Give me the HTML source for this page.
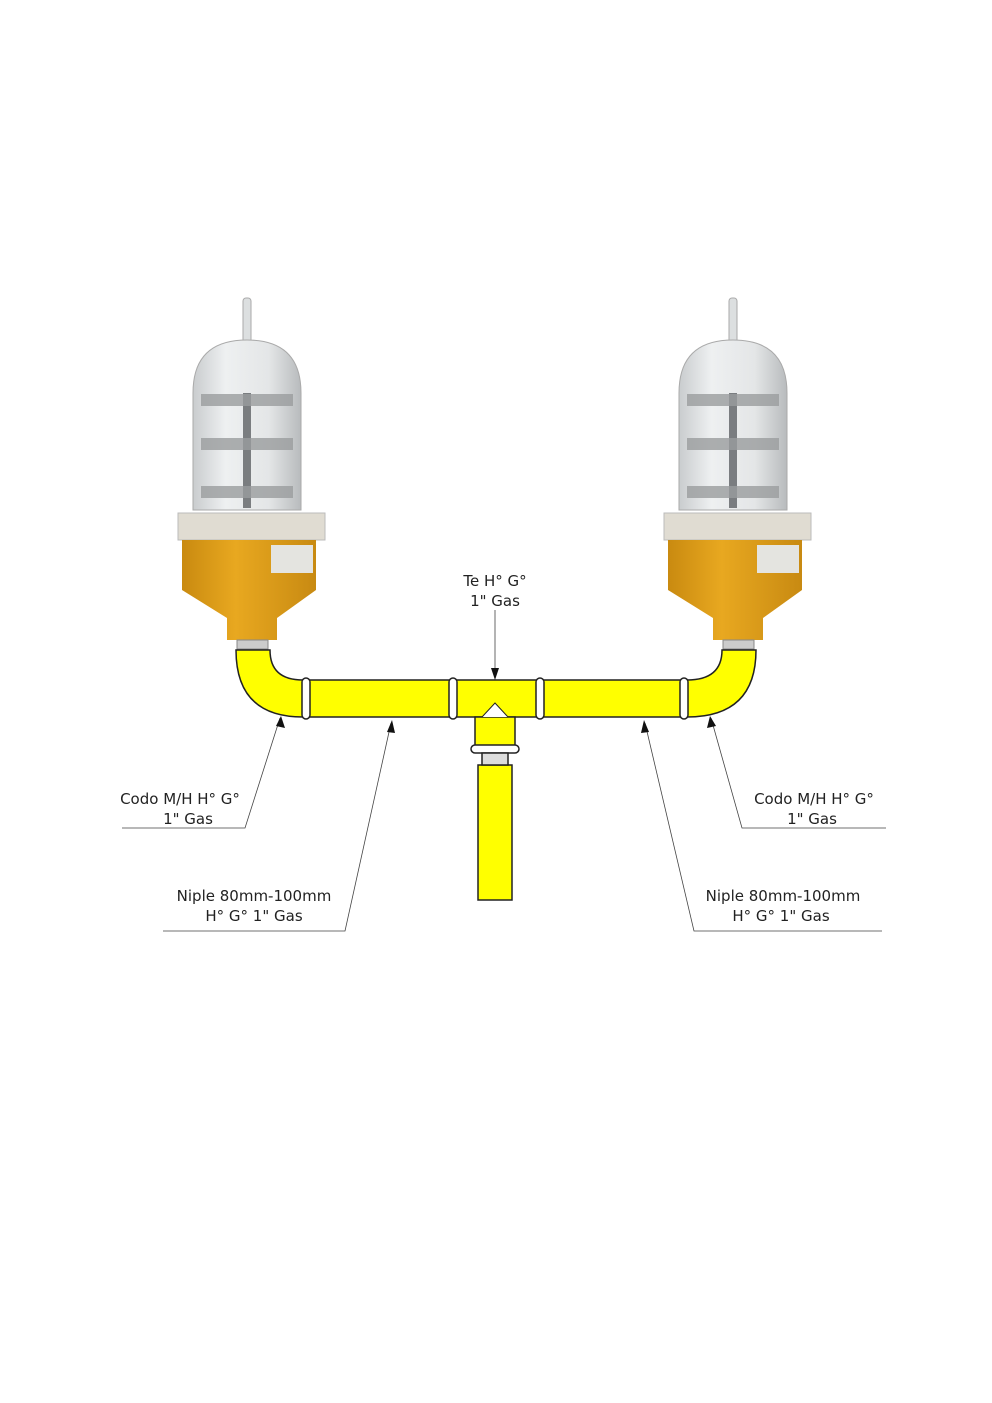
<!DOCTYPE html>
<html><head><meta charset="utf-8"><style>
body{margin:0;background:#fff}
svg{display:block}
text{font-family:"DejaVu Sans","Liberation Sans",sans-serif;font-size:15px;fill:#222}
</style></head><body>
<svg width="992" height="1403" viewBox="0 0 992 1403">
<defs>
<linearGradient id="dome" x1="0" x2="1"><stop offset="0" stop-color="#c9ccce"/><stop offset="0.3" stop-color="#eef0f1"/><stop offset="0.7" stop-color="#e4e6e7"/><stop offset="1" stop-color="#b8bbbd"/></linearGradient>
<linearGradient id="org" x1="0" x2="1"><stop offset="0" stop-color="#c98a10"/><stop offset="0.4" stop-color="#e8a820"/><stop offset="1" stop-color="#c88a12"/></linearGradient>
<g id="lamp">
<rect x="-4" y="0" width="8" height="45" rx="3" fill="#dcdfe0" stroke="#aaa"/>
<path d="M-54 212 L-54 95 Q-54 42 0 42 Q54 42 54 95 L54 212 Z" fill="url(#dome)" stroke="#aaa"/>
<rect x="-4" y="95" width="8" height="115" fill="#7a7d80"/>
<rect x="-46" y="96" width="92" height="12" fill="#9a9c9e" opacity="0.8"/>
<rect x="-46" y="140" width="92" height="12" fill="#9a9c9e" opacity="0.8"/>
<rect x="-46" y="188" width="92" height="12" fill="#9a9c9e" opacity="0.8"/>
<rect x="-69" y="215" width="147" height="27" fill="#e0dcd2" stroke="#bbb"/>
<rect x="-65" y="242" width="134" height="40" fill="url(#org)"/>
<rect x="24" y="247" width="42" height="28" fill="#e4e4e0"/>
<path d="M-65 282 L69 282 L69 292 L30 320 L30 342 L-20 342 L-20 320 L-65 292 Z" fill="url(#org)"/>
<rect x="-10" y="342" width="31" height="9" fill="#ccc" stroke="#888"/>
</g>
</defs>
<use href="#lamp" x="247" y="298"/>
<use href="#lamp" x="733" y="298"/>
<g fill="#ffff00" stroke="#222" stroke-width="1.5">
<path d="M236 650 L270 650 Q270 680 303 680 L303 717 Q236 717 236 650 Z"/>
<path d="M756 650 L722 650 Q722 680 687 680 L687 717 Q756 717 756 650 Z"/>
<rect x="308" y="680" width="376" height="37"/>
<rect x="475" y="717" width="40" height="30"/>
<rect x="478" y="765" width="34" height="135"/>
<rect x="471" y="745" width="48" height="8" rx="4" fill="#fff"/>
<rect x="482" y="753" width="26" height="12" fill="#ddd"/>
<rect x="302" y="678" width="8" height="41" rx="4" fill="#fff"/>
<rect x="449" y="678" width="8" height="41" rx="4" fill="#fff"/>
<rect x="536" y="678" width="8" height="41" rx="4" fill="#fff"/>
<rect x="680" y="678" width="8" height="41" rx="4" fill="#fff"/>
</g>
<path d="M482 717 L495 703 L508 717" fill="#fff" stroke="#222"/>
<g stroke="#444" stroke-width="0.8" fill="none">
<line x1="495" y1="610" x2="495" y2="672"/>
<polyline points="122,828 245,828 280,718"/>
<polyline points="163,931 345,931 391,723"/>
<polyline points="886,828 742,828 711,718"/>
<polyline points="882,931 694,931 645,723"/>
</g>
<g fill="#111">
<path d="M491 668 L499 668 L495 680 Z"/>
<path d="M276 726 L285 728 L281 716 Z"/>
<path d="M387 732 L395 733 L392 720 Z"/>
<path d="M707 728 L716 726 L710 716 Z"/>
<path d="M641 733 L649 732 L644 720 Z"/>
</g>
<text x="495" y="586" text-anchor="middle">Te H° G°</text>
<text x="495" y="606" text-anchor="middle">1" Gas</text>
<text x="180" y="804" text-anchor="middle">Codo M/H H° G°</text>
<text x="188" y="824" text-anchor="middle">1" Gas</text>
<text x="254" y="901" text-anchor="middle">Niple 80mm-100mm</text>
<text x="254" y="921" text-anchor="middle">H° G° 1" Gas</text>
<text x="814" y="804" text-anchor="middle">Codo M/H H° G°</text>
<text x="812" y="824" text-anchor="middle">1" Gas</text>
<text x="783" y="901" text-anchor="middle">Niple 80mm-100mm</text>
<text x="781" y="921" text-anchor="middle">H° G° 1" Gas</text>
</svg>
</body></html>
